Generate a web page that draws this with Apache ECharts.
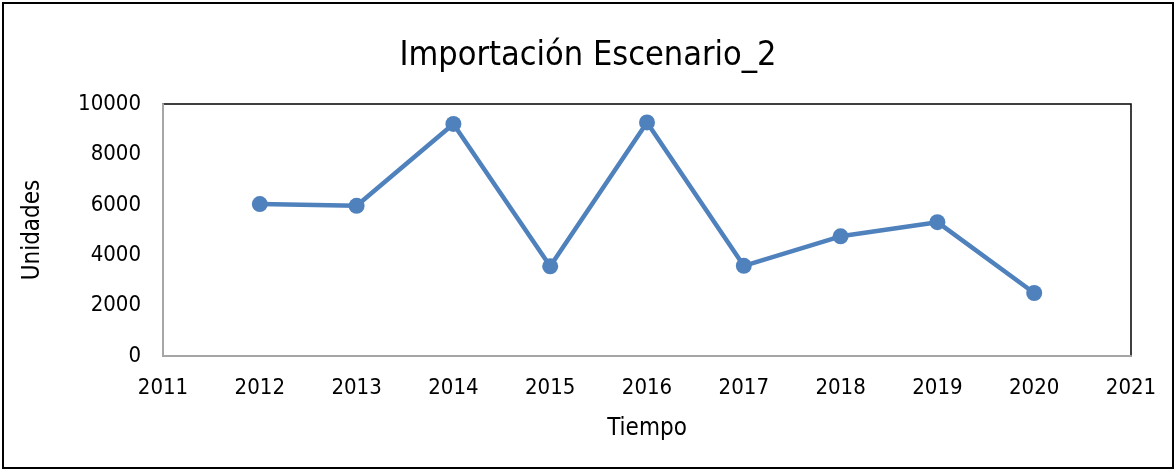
<!DOCTYPE html>
<html>
<head>
<meta charset="utf-8">
<script src="https://cdn.jsdelivr.net/npm/echarts@6/dist/echarts.min.js"></script>
<style>
html,body{margin:0;padding:0;background:#fff;}
#chart{width:1176px;height:471px;}
</style>
</head>
<body>
<div id="chart"></div>
<script>
const years = [2012, 2013, 2014, 2015, 2016, 2017, 2018, 2019, 2020];
const values = [6030, 5960, 9210, 3560, 9270, 3580, 4750, 5310, 2500];
const titleText = 'Importación Escenario_2';
const xName = 'Tiempo';
const yName = 'Unidades';

const FONT = '"Liberation Sans Narrow", "DejaVu Sans Condensed", "Liberation Sans", sans-serif';
const chart = echarts.init(document.getElementById('chart'), null, {renderer: 'canvas'});
chart.setOption({
  backgroundColor: '#fff',
  animation: false,
  textStyle: {fontFamily: FONT},
  title: {
    text: titleText, left: 'center', top: 34,
    textStyle: {fontFamily: FONT, fontSize: 34, fontWeight: 'normal', color: '#000'}
  },
  graphic: [{
    type: 'rect', shape: {x: 3, y: 3, width: 1170, height: 465},
    style: {fill: 'none', stroke: '#000', lineWidth: 2}, silent: true
  }],
  grid: {left: 163, right: 45, top: 104, bottom: 115, show: true, borderColor: '#000', borderWidth: 1.5},
  xAxis: {
    type: 'value', min: 2011, max: 2021, interval: 1,
    name: xName, nameLocation: 'middle', nameGap: 61,
    nameTextStyle: {fontFamily: FONT, fontSize: 24, color: '#000'},
    axisLine: {show: true, onZero: false, lineStyle: {color: '#A6A6A6', width: 2}},
    axisTick: {show: false},
    splitLine: {show: false},
    axisLabel: {fontFamily: FONT, fontSize: 22, color: '#000', margin: 21, formatter: v => String(v)}
  },
  yAxis: {
    type: 'value', min: 0, max: 10000, interval: 2000,
    name: yName, nameLocation: 'middle', nameGap: 118,
    nameTextStyle: {fontFamily: FONT, fontSize: 24, color: '#000'},
    axisLine: {show: true, lineStyle: {color: '#A6A6A6', width: 2}},
    axisTick: {show: false},
    splitLine: {show: false},
    axisLabel: {fontFamily: FONT, fontSize: 22, color: '#000', margin: 22, formatter: v => String(v)}
  },
  series: [{
    type: 'line',
    data: years.map((y, i) => [y, values[i]]),
    lineStyle: {color: '#4F81BD', width: 4.5},
    itemStyle: {color: '#4F81BD'},
    symbol: 'circle', symbolSize: 16
  }]
});
</script>
</body>
</html>
